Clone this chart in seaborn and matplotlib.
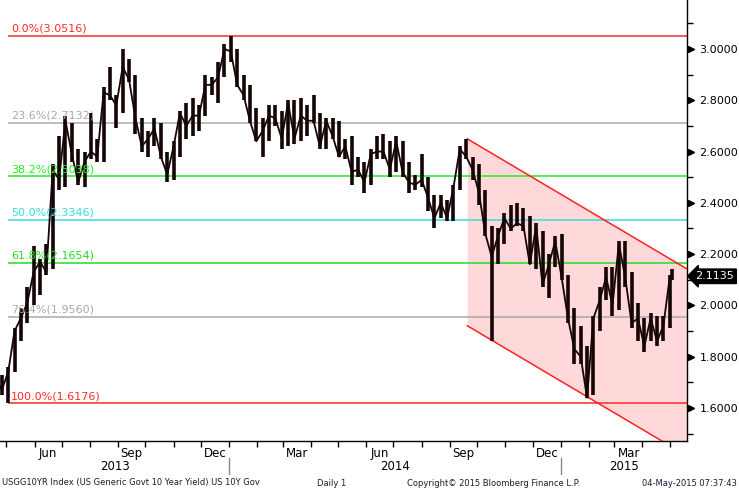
import matplotlib
matplotlib.use('Agg')
import matplotlib.pyplot as plt
import matplotlib.dates as mdates
import matplotlib.transforms as mtransforms
import matplotlib.ticker as mticker
import seaborn as sns
import pandas as pd
import numpy as np

# ---------------- data ----------------
# weekly (Friday) close / high / low of the US 10Y generic yield
first_week = '2013-04-19'
close = [1.72, 1.67, 1.74, 1.90, 1.95, 2.01, 2.13,
         2.17, 2.13, 2.53, 2.49,
         2.72, 2.59, 2.48, 2.56,
         2.60, 2.58, 2.83, 2.82, 2.78,
         2.93, 2.88, 2.73, 2.62,
         2.65, 2.69, 2.58, 2.51,
         2.62, 2.75, 2.70, 2.74, 2.74,
         2.86, 2.86, 2.89, 3.00,
         2.99, 2.86, 2.82, 2.72, 2.64,
         2.68, 2.74, 2.73, 2.65,
         2.79, 2.65, 2.74, 2.72,
         2.72, 2.62, 2.72, 2.66,
         2.58, 2.62, 2.52, 2.53, 2.48,
         2.59, 2.60, 2.60, 2.53,
         2.64, 2.52, 2.48, 2.47,
         2.49, 2.42, 2.34, 2.40, 2.34,
         2.46, 2.61, 2.58, 2.53,
         2.44, 2.28, 2.19, 2.27, 2.34,
         2.30, 2.32, 2.31, 2.16,
         2.31, 2.08, 2.16, 2.25,
         2.11, 1.95, 1.83, 1.80, 1.64,
         1.95, 2.02, 2.11, 2.00,
         2.24, 2.11, 1.93, 1.95,
         1.84, 1.95, 1.86, 1.92,
         2.11]
high = [1.74, 1.73, 1.76, 1.91, 1.99, 2.07, 2.23,
        2.18, 2.24, 2.55, 2.66,
        2.74, 2.71, 2.61, 2.60,
        2.75, 2.65, 2.85, 2.93, 2.82,
        3.00, 2.96, 2.90, 2.73,
        2.68, 2.73, 2.71, 2.60,
        2.64, 2.76, 2.79, 2.81, 2.78,
        2.90, 2.89, 2.95, 3.02,
        3.05, 3.00, 2.90, 2.86, 2.77,
        2.73, 2.78, 2.78, 2.76,
        2.80, 2.80, 2.81, 2.78,
        2.82, 2.75, 2.73, 2.73,
        2.72, 2.65, 2.66, 2.58, 2.56,
        2.61, 2.66, 2.67, 2.64,
        2.66, 2.64, 2.56, 2.51,
        2.59, 2.50, 2.43, 2.43, 2.41,
        2.47, 2.62, 2.65, 2.58,
        2.55, 2.45, 2.31, 2.30, 2.36,
        2.39, 2.40, 2.38, 2.35,
        2.32, 2.29, 2.20, 2.27,
        2.28, 2.12, 1.99, 1.92, 1.84,
        1.96, 2.07, 2.15, 2.15,
        2.25, 2.25, 2.13, 2.01,
        1.95, 1.97, 1.96, 1.96,
        2.12]
low = [1.68, 1.65, 1.62, 1.74, 1.86, 1.93, 2.00,
       2.04, 2.12, 2.14, 2.45,
       2.46, 2.56, 2.47, 2.46,
       2.57, 2.56, 2.56, 2.80, 2.69,
       2.75, 2.87, 2.67, 2.60,
       2.58, 2.62, 2.57, 2.48,
       2.49, 2.58, 2.65, 2.66, 2.68,
       2.74, 2.82, 2.79, 2.89,
       2.95, 2.85, 2.80, 2.71, 2.64,
       2.58, 2.64, 2.70, 2.61,
       2.62, 2.63, 2.64, 2.66,
       2.71, 2.61, 2.61, 2.65,
       2.58, 2.57, 2.47, 2.50, 2.44,
       2.47, 2.57, 2.57, 2.50,
       2.52, 2.50, 2.44, 2.45,
       2.46, 2.37, 2.30, 2.34, 2.33,
       2.33, 2.45, 2.57, 2.49,
       2.39, 2.27, 1.86, 2.16, 2.24,
       2.29, 2.31, 2.29, 2.16,
       2.14, 2.07, 2.03, 2.15,
       2.10, 1.93, 1.77, 1.77, 1.64,
       1.65, 1.90, 2.02, 1.96,
       1.98, 2.07, 1.91, 1.86,
       1.82, 1.86, 1.84, 1.86,
       1.91]
last_day = '2015-05-04'
last_close, last_high, last_low = 2.1135, 2.14, 2.10

fib_pct = ['0.0%', '23.6%', '38.2%', '50.0%', '61.8%', '76.4%', '100.0%']
fib_val = [3.0516, 2.7132, 2.5038, 2.3346, 2.1654, 1.9560, 1.6176]
fib_col = ['#ff2a2a', '#a9a9a9', '#22ee22', '#33dede', '#22dd22', '#a9a9a9', '#ff2a2a']
fib_start = '2013-05-03'

chan_dates = ['2014-09-20', '2015-05-20']
chan_upper = [2.650, 2.142]
chan_lower = [1.921, 1.413]

x_min, x_max = '2013-04-24', '2015-05-20'
y_min, y_max = 1.471, 3.191
y_major = [1.6, 1.8, 2.0, 2.2, 2.4, 2.6, 2.8, 3.0]
y_minor = [1.5, 1.7, 1.9, 2.1, 2.3, 2.5, 2.7, 2.9, 3.1]
month_labels = ['Jun', 'Sep', 'Dec', 'Mar', 'Jun', 'Sep', 'Dec', 'Mar']
month_label_dates = ['2013-06-16', '2013-09-16', '2013-12-17', '2014-03-17',
                     '2014-06-16', '2014-09-16', '2014-12-17', '2015-03-17']
years = ['2013', '2014', '2015']
year_bounds = ['2013-04-24', '2014-01-01', '2015-01-01', '2015-05-20']

# ---------------- frame ----------------
dates = list(pd.date_range(first_week, periods=len(close), freq='W-FRI')) + [pd.Timestamp(last_day)]
df = pd.DataFrame({'date': dates,
                   'close': close + [last_close],
                   'high': high + [last_high],
                   'low': low + [last_low]})

sns.set_theme(style='white')
plt.rcParams['font.family'] = ['DejaVu Sans']

fig = plt.figure(figsize=(7.39, 4.91), dpi=100)
ax = fig.add_axes([0.0, 1 - 441 / 491, 687 / 739, 441 / 491])
ax.set_facecolor('white')

X0, X1 = pd.Timestamp(x_min), pd.Timestamp(x_max)
ax.set_xlim(X0, X1)
ax.set_ylim(y_min, y_max)

# channel
cd = pd.to_datetime(chan_dates)
ax.fill_between(cd, chan_lower, chan_upper, color='#ffd9d9', lw=0, zorder=1)
ax.plot(cd, chan_upper, color='#ff2020', lw=1.1, zorder=3)
ax.plot(cd, chan_lower, color='#ff2020', lw=1.1, zorder=3)

# fib levels
fs = pd.Timestamp(fib_start)
for p, v, c in zip(fib_pct, fib_val, fib_col):
    ax.hlines(v, fs, X1, color=c, lw=1.1, zorder=2)
    ax.annotate(f'{p}({v:.4f})', xy=(fs, v), xytext=(2, 1.5), textcoords='offset points',
                color=c, fontsize=8, ha='left', va='bottom', zorder=5)

# price
ax.vlines(df['date'], df['low'], df['high'], color='#150505', lw=2.6, zorder=4)
sns.lineplot(data=df, x='date', y='close', color='#150505', lw=1.3, ax=ax, zorder=4)
ax.set_xlabel('')
ax.set_ylabel('')

# spines
for s in ['left', 'top']:
    ax.spines[s].set_visible(False)
for s in ['right', 'bottom']:
    ax.spines[s].set_color('black')
    ax.spines[s].set_linewidth(1.0)

# y axis on right
ax.yaxis.tick_right()
ax.set_yticks(y_major)
ax.yaxis.set_major_formatter(mticker.FormatStrFormatter('%.4f'))
ax.set_yticks(y_minor, minor=True)
ax.tick_params(axis='y', which='major', length=0, pad=9, labelsize=8, colors='black')
ax.tick_params(axis='y', which='minor', length=4, width=1, color='black', direction='out')
tri_tr = mtransforms.blended_transform_factory(ax.transAxes, ax.transData) + \
    mtransforms.ScaledTranslation(3.5 / 100, 0, fig.dpi_scale_trans)
ax.plot([1.0] * len(y_major), y_major, linestyle='none', marker='>', ms=5,
        color='black', transform=tri_tr, clip_on=False, zorder=6)

# last price tag
ax.annotate(f'{last_close:.4f}', xy=(1.0, last_close),
            xycoords=mtransforms.blended_transform_factory(ax.transAxes, ax.transData),
            xytext=(6, 0), textcoords='offset points', ha='left', va='center',
            color='white', fontsize=8,
            bbox=dict(boxstyle='larrow,pad=0.2', fc='black', ec='black'),
            annotation_clip=False, zorder=7)

# x axis
ax.xaxis.set_minor_locator(mdates.MonthLocator())
ax.set_xticks(pd.to_datetime(month_label_dates))
ax.set_xticklabels(month_labels)
ax.tick_params(axis='x', which='major', length=0, pad=4, labelsize=8.5, colors='black')
ax.tick_params(axis='x', which='minor', length=4, width=1, color='black', direction='out',
               bottom=True)

xb = mdates.date2num(pd.to_datetime(year_bounds))
btr = mtransforms.blended_transform_factory(ax.transData, ax.transAxes)
for i, yr in enumerate(years):
    ax.text((xb[i] + xb[i + 1]) / 2, -(467 - 441) / 441, yr, transform=btr,
            ha='center', va='center', fontsize=8.5, color='black')
for b in xb[1:3]:
    ax.plot([b, b], [-(458 - 441) / 441, -(474 - 441) / 441], color='#888888', lw=1,
            transform=btr, clip_on=False)

# footer
fy = 1 - 483 / 491
fig.text(2 / 739, fy, 'USGG10YR Index (US Generic Govt 10 Year Yield) US 10Y Gov',
         fontsize=6, ha='left', va='center', color='#1a1a2e')
fig.text(317 / 739, fy, 'Daily 1', fontsize=6, ha='left', va='center', color='#1a1a2e')
fig.text(407 / 739, fy, 'Copyright\u00a9 2015 Bloomberg Finance L.P.', fontsize=6,
         ha='left', va='center', color='#1a1a2e')
fig.text(737 / 739, fy, '04-May-2015 07:37:43', fontsize=6, ha='right', va='center',
         color='#1a1a2e')

fig.savefig('out.png', dpi=100, facecolor='white')
